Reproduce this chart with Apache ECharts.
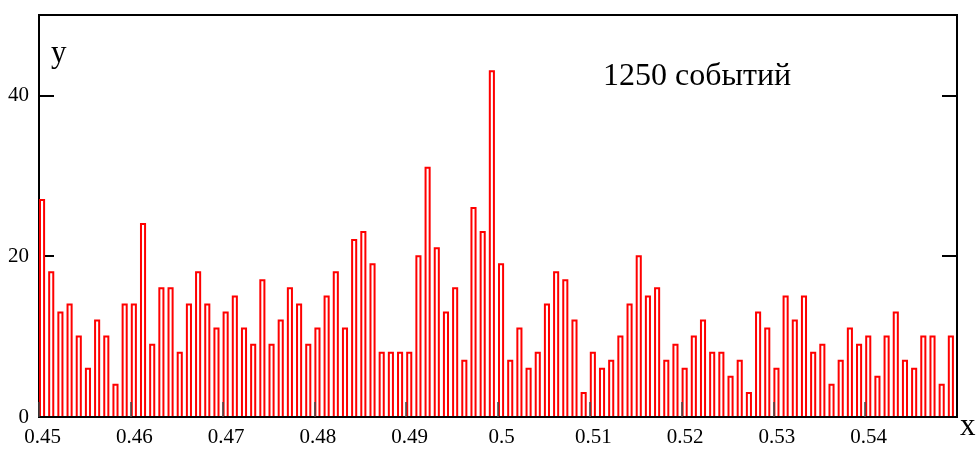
<!DOCTYPE html>
<html>
<head>
<meta charset="utf-8">
<script src="https://cdn.jsdelivr.net/npm/echarts@6/dist/echarts.min.js"></script>
<style>
html,body{margin:0;padding:0;background:#fff;}
#chart{width:979px;height:449px;}
</style>
</head>
<body>
<div id="chart"></div>
<script>
// Histogram definition
const BIN_START = 0.45;
const BIN_WIDTH = 0.001;
const counts = [
  27,18,13,14,10,6,12,10,4,14,
  14,24,9,16,16,8,14,18,14,11,
  13,15,11,9,17,9,12,16,14,9,
  11,15,18,11,22,23,19,8,8,8,
  8,20,31,21,13,16,7,26,23,43,
  19,7,11,6,8,14,18,17,12,3,
  8,6,7,10,14,20,15,16,7,9,
  6,10,12,8,8,5,7,3,13,11,
  6,15,12,15,8,9,4,7,11,9,
  10,5,10,13,7,6,10,10,4,10
];
const xTickValues = [0.45,0.46,0.47,0.48,0.49,0.5,0.51,0.52,0.53,0.54];
const xTickLabels = ['0.45','0.46','0.47','0.48','0.49','0.5','0.51','0.52','0.53','0.54'];
const yTickValues = [0,20,40];
const yTickLabels = ['0','20','40'];
const titleText = '1250 событий';

const FONT = '"Liberation Serif","DejaVu Serif",serif';

const data = counts.map((c, i) => [BIN_START + i * BIN_WIDTH, c]);

function xLabel(v) {
  for (let i = 0; i < xTickValues.length; i++) {
    if (Math.abs(v - xTickValues[i]) < 1e-9) return xTickLabels[i];
  }
  return '';
}
function yLabel(v) {
  for (let i = 0; i < yTickValues.length; i++) {
    if (Math.abs(v - yTickValues[i]) < 1e-9) return yTickLabels[i];
  }
  return '';
}

const chart = echarts.init(document.getElementById('chart'), null, {renderer: 'canvas'});
chart.setOption({
  animation: false,
  backgroundColor: '#fff',
  grid: {left: 39, top: 15, right: 22, bottom: 32, show: true, borderColor: '#000', borderWidth: 2, backgroundColor: 'transparent'},
  xAxis: {
    type: 'value', min: 0.45, max: 0.55, interval: 0.01,
    axisLine: {show: true, lineStyle: {color: '#000', width: 2}},
    axisTick: {show: true, inside: true, length: 15, lineStyle: {color: '#444', width: 1.5}},
    splitLine: {show: false},
    axisLabel: {formatter: xLabel, color: '#000', fontFamily: FONT, fontSize: 21, margin: 10, padding: [0,0,0,7], showMaxLabel: false},
    z: 5
  },
  yAxis: [{
    type: 'value', min: 0, max: 50, interval: 20, position: 'left',
    axisLine: {show: true, lineStyle: {color: '#000', width: 2}},
    axisTick: {show: true, inside: true, length: 15, lineStyle: {color: '#000', width: 2}},
    splitLine: {show: false},
    axisLabel: {formatter: yLabel, color: '#000', fontFamily: FONT, fontSize: 21, margin: 10, padding: [8,0,0,0], showMaxLabel: false}
  }, {
    type: 'value', min: 0, max: 50, interval: 20, position: 'right',
    axisLine: {show: true, lineStyle: {color: '#000', width: 2}},
    axisTick: {show: true, inside: true, length: 15, lineStyle: {color: '#000', width: 2}},
    splitLine: {show: false},
    axisLabel: {show: false}
  }],
  graphic: [
    {type: 'text', left: 603, top: 61, style: {text: titleText, font: '32px ' + FONT, fill: '#000'}},
    {type: 'text', left: 51, top: 38, style: {text: 'y', font: '31px ' + FONT, fill: '#000'}},
    {type: 'text', left: 960, top: 411, style: {text: 'x', font: '31px ' + FONT, fill: '#000'}}
  ],
  series: [{
    type: 'custom',
    data: data,
    z: 2,
    encode: {x: 0, y: 1},
    renderItem: function (params, api) {
      const x0 = api.value(0);
      const v = api.value(1);
      const pTop = api.coord([x0, v]);
      const pBot = api.coord([x0 + BIN_WIDTH / 2, 0]);
      return {
        type: 'rect',
        shape: {x: pTop[0] + 1, y: pTop[1], width: pBot[0] - pTop[0] - 0.5, height: pBot[1] - pTop[1]},
        style: {fill: '#fff', stroke: '#ff0000', lineWidth: 2}
      };
    }
  }]
});
</script>
</body>
</html>
